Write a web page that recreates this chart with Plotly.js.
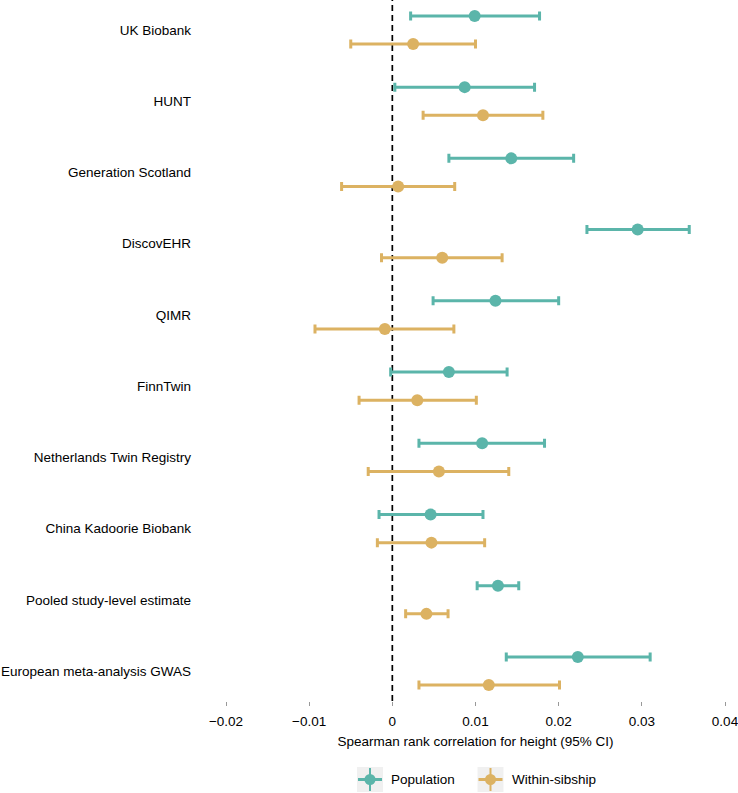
<!DOCTYPE html>
<html>
<head>
<meta charset="utf-8">
<script src="https://cdn.plot.ly/plotly-3.0.1.min.js"></script>
<style>html,body{margin:0;padding:0;background:#fff;}#chart{width:738px;height:793px;}</style>
</head>
<body>
<div id="chart"></div>
<script>
const studies = ['UK Biobank','HUNT','Generation Scotland','DiscovEHR','QIMR','FinnTwin','Netherlands Twin Registry','China Kadoorie Biobank','Pooled study-level estimate','European meta-analysis GWAS'];
const popEst = [0.0099, 0.0087, 0.0143, 0.0295, 0.0124, 0.0068, 0.0108, 0.0046, 0.0127, 0.0223];
const popLo  = [0.0022, 0.0003, 0.0068, 0.0234, 0.0049, -0.0002, 0.0032, -0.0016, 0.0102, 0.0137];
const popHi  = [0.0177, 0.0171, 0.0218, 0.0357, 0.0200, 0.0138, 0.0183, 0.0109, 0.0152, 0.0310];
const sibEst = [0.0025, 0.0109, 0.0007, 0.0060, -0.0009, 0.0030, 0.0056, 0.0047, 0.0041, 0.0116];
const sibLo  = [-0.0050, 0.0037, -0.0061, -0.0013, -0.0093, -0.0040, -0.0029, -0.0018, 0.0016, 0.0032];
const sibHi  = [0.0100, 0.0181, 0.0075, 0.0132, 0.0074, 0.0101, 0.0140, 0.0111, 0.0067, 0.0201];
const xTicks = [-0.02, -0.01, 0, 0.01, 0.02, 0.03, 0.04];
const xTickText = ['\u22120.02', '\u22120.01', '0', '0.01', '0.02', '0.03', '0.04'];
const seriesNames = ['Population', 'Within-sibship'];

const teal = '#5BB5AA';
const gold = '#DCB262';
const font = 'Liberation Sans, Arial, Helvetica, sans-serif';
const idx = studies.map((_, i) => i);
const off = 0.197;

// plot geometry (pixels) used to place the hand-drawn legend keys
const M = {l: 226, r: 13, t: 0, b: 92};
const W = 738, H = 793;
const PW = W - M.l - M.r, PH = H - M.t - M.b;
const px = v => (v - M.l) / PW;
const py = v => (PH + M.t - v) / PH;

function trace(name, est, lo, hi, color, shift) {
  return {
    type: 'scatter', mode: 'markers', name: name, showlegend: false,
    x: est, y: idx.map(i => i + shift),
    marker: {color: color, size: 12},
    error_x: {type: 'data', symmetric: false,
      array: est.map((v, i) => hi[i] - v),
      arrayminus: est.map((v, i) => v - lo[i]),
      color: color, thickness: 3, width: 4.5},
    hoverinfo: 'x+name'
  };
}

const data = [
  trace(seriesNames[0], popEst, popLo, popHi, teal, -off),
  trace(seriesNames[1], sibEst, sibLo, sibHi, gold, off)
];

// legend keys (ggplot-style grey key boxes with point + cross)
const keys = [
  {name: seriesNames[0], color: teal, cx: 370, tx: 389},
  {name: seriesNames[1], color: gold, cx: 490.5, tx: 510}
];
const keyY = 779.5;
const shapes = [
  {type: 'line', xref: 'x', yref: 'paper', x0: 0, x1: 0, y0: 0, y1: 1,
   line: {color: '#000', width: 1.7, dash: '6px,4px'}, layer: 'below'}
];
const annotations = [];
keys.forEach(k => {
  shapes.push({type: 'rect', xref: 'paper', yref: 'paper',
    x0: px(k.cx - 13), x1: px(k.cx + 13), y0: py(keyY + 12.5), y1: py(keyY - 12.5),
    fillcolor: '#F0F0F0', line: {width: 0}});
  shapes.push({type: 'line', xref: 'paper', yref: 'paper',
    x0: px(k.cx - 12), x1: px(k.cx + 12), y0: py(keyY), y1: py(keyY),
    line: {color: k.color, width: 3}});
  shapes.push({type: 'line', xref: 'paper', yref: 'paper',
    x0: px(k.cx), x1: px(k.cx), y0: py(keyY + 11.5), y1: py(keyY - 11.5),
    line: {color: k.color, width: 2}});
  shapes.push({type: 'circle', xref: 'paper', yref: 'paper',
    x0: px(k.cx - 5.5), x1: px(k.cx + 5.5), y0: py(keyY + 5.5), y1: py(keyY - 5.5),
    fillcolor: k.color, line: {width: 0}});
  annotations.push({xref: 'paper', yref: 'paper', x: px(k.tx), y: py(keyY),
    xanchor: 'left', yanchor: 'middle', showarrow: false, text: k.name,
    font: {family: font, size: 13.5, color: '#000'}});
});

const layout = {
  width: W, height: H,
  margin: M,
  paper_bgcolor: '#fff', plot_bgcolor: '#fff',
  font: {family: font, size: 13.5, color: '#000'},
  showlegend: false,
  xaxis: {
    range: [-0.02, 0.04], tickvals: xTicks, ticktext: xTickText,
    showgrid: false, zeroline: false, showline: false,
    ticks: 'outside', ticklen: 4, tickcolor: '#999', tickwidth: 1,
    ticklabelstandoff: 4, ticklabeloverflow: 'allow',
    tickfont: {family: font, size: 13.5, color: '#000'},
    title: {text: 'Spearman rank correlation for height (95% CI)', font: {family: font, size: 13.5, color: '#000'}, standoff: 8},
    fixedrange: true
  },
  yaxis: {
    range: [9.42, -0.42], tickvals: idx, ticktext: studies,
    showgrid: false, zeroline: false, showline: false, ticks: '',
    ticklabelstandoff: 34,
    tickfont: {family: font, size: 13.5, color: '#000'},
    fixedrange: true
  },
  shapes: shapes,
  annotations: annotations
};

Plotly.newPlot('chart', data, layout, {displayModeBar: false, staticPlot: true});
</script>
</body>
</html>
